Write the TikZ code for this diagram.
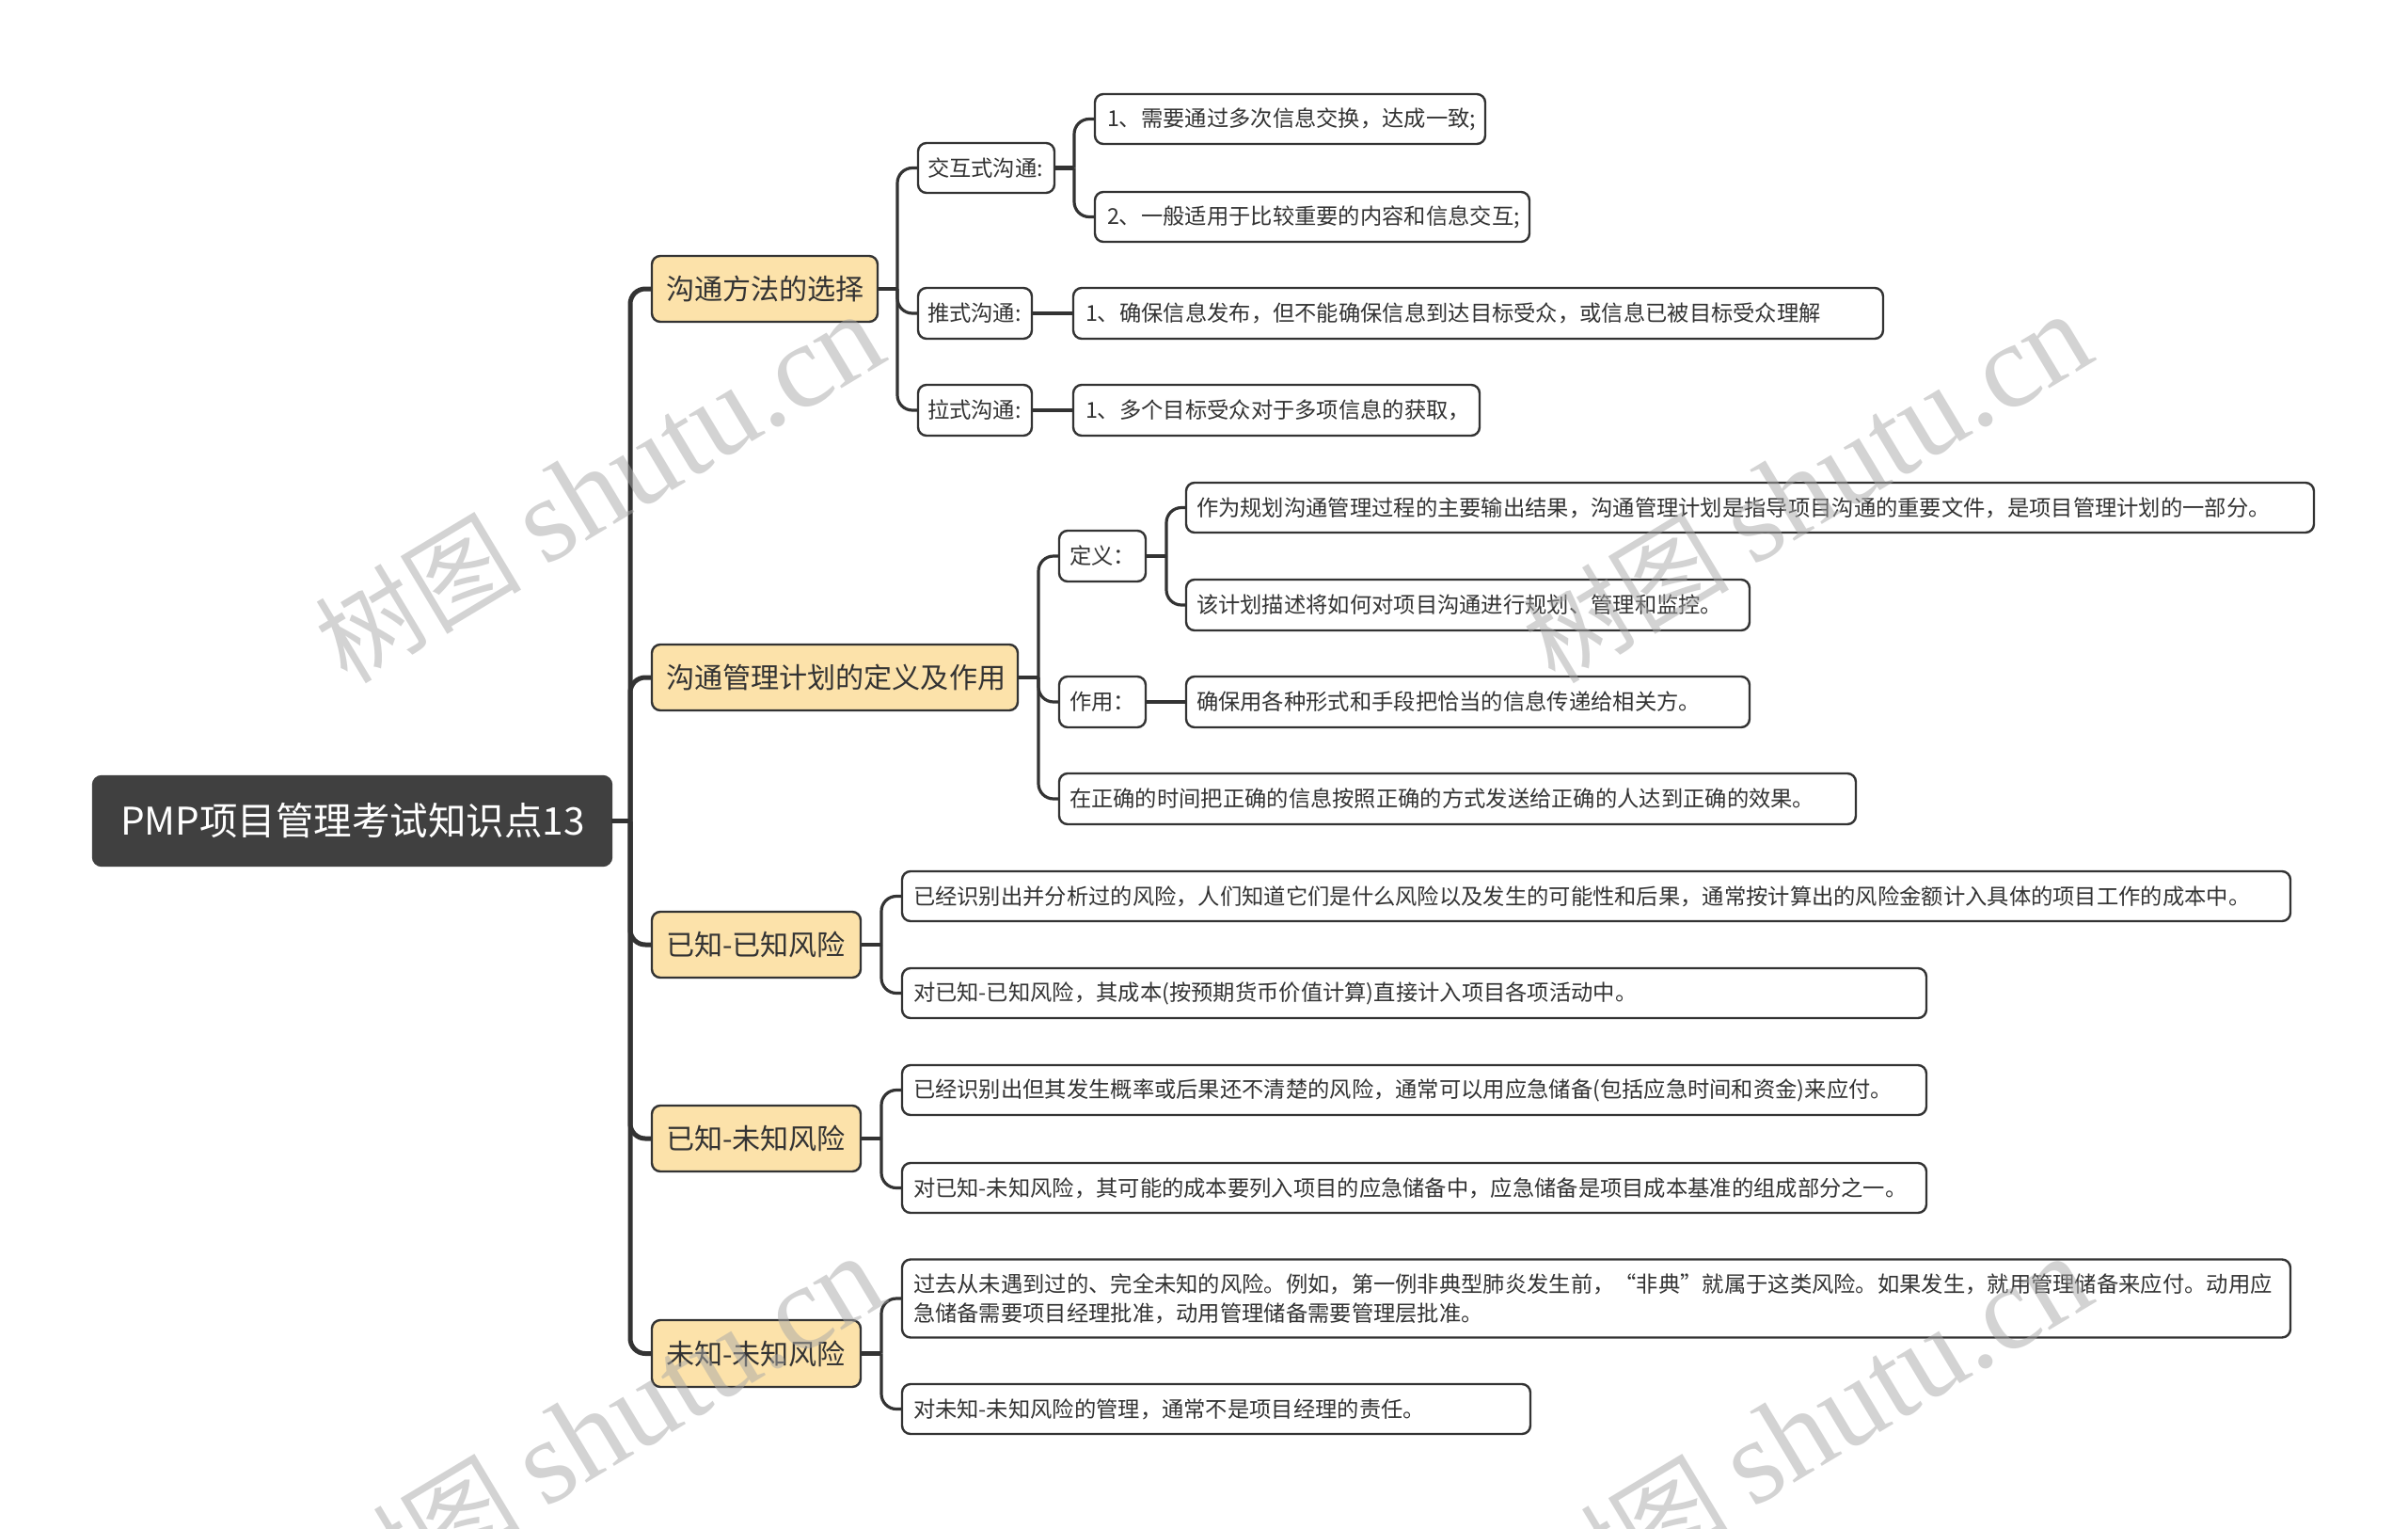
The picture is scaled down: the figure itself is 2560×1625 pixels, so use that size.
\documentclass[tikz,border=0pt]{standalone}
\usepackage{fontspec}
\setmainfont{Noto Sans CJK SC}
\newfontfamily\wmlatin{Liberation Serif}
\usetikzlibrary{calc}
\definecolor{ink}{HTML}{333333}
\definecolor{rootfill}{HTML}{404040}
\definecolor{goldfill}{HTML}{FCE2AA}
\definecolor{wmgray}{HTML}{A8A8A8}
\tikzset{
  base/.style={draw=ink,line width=2.4pt,rounded corners=9pt,inner xsep=0pt,inner ysep=0pt,outer sep=0pt,anchor=west,align=left,text=ink},
  rootbox/.style={base,fill=rootfill,draw=rootfill,text=white,font=\fontsize{40.5}{48}\selectfont},
  goldbox/.style={base,fill=goldfill,font=\fontsize{30.1}{38}\selectfont},
  leafbox/.style={base,fill=white,font=\fontsize{23.3}{31}\selectfont},
  trunk/.style={draw=ink,line width=5pt,rounded corners=16pt},
  subtrunk/.style={draw=ink,line width=3.2pt,rounded corners=16pt},
  stub/.style={draw=ink,line width=4.5pt},
  wm/.style={text=wmgray,text opacity=.5,rotate=31,inner sep=0pt,font=\fontsize{110}{130}\selectfont},
}
% name, x1, y1, x2, y2, style, left pad, text
\newcommand{\mmbox}[8]{%
  \pgfmathsetmacro{\mmw}{#4-#2}%
  \pgfmathsetmacro{\mmh}{#5-#3}%
  \pgfmathsetmacro{\mmc}{(#3+#5)/2}%
  \node[#6,text width=\mmw pt,minimum height=\mmh pt] (#1) at (#2,\mmc) {\hspace*{#7pt}\mbox{#8}};%
}
% parent, child, gap from the parent's east side to the branch line, style
\newcommand{\branch}[4]{%
  \draw[#4] (#2.west) -| ($(#1.east)+(#3,0)$);%
  \draw[stub] (#1.east) -- ++(#3,0);%
}
\newcommand{\wmtext}{树图 {\wmlatin\fontsize{128}{130}\selectfont shutu.cn}}
\begin{document}
\begin{tikzpicture}[x=1pt,y=-1pt]
\useasboundingbox (0,0) rectangle (2560,1625);
\clip (0,0) rectangle (2560,1625);
\fill[white] (0,0) rectangle (2560,1625);

\mmbox{root}{99}{825}{650}{920}{rootbox}{29}{PMP项目管理考试知识点13}

\mmbox{a}{693}{272}{933}{342}{goldbox}{15}{沟通方法的选择}
\mmbox{b}{693}{685}{1082}{755}{goldbox}{15}{沟通管理计划的定义及作用}
\mmbox{c}{693}{969}{915}{1039}{goldbox}{15}{已知-已知风险}
\mmbox{d}{693}{1175}{915}{1245}{goldbox}{15}{已知-未知风险}
\mmbox{e}{693}{1403}{915}{1474}{goldbox}{15}{未知-未知风险}

\mmbox{a1}{976}{152}{1121}{205}{leafbox}{10}{\raisebox{-3pt}{交互式沟通:}}
\mmbox{a2}{976}{306}{1097}{360}{leafbox}{10}{\raisebox{-3pt}{推式沟通:}}
\mmbox{a3}{976}{409}{1097}{463}{leafbox}{10}{\raisebox{-3pt}{拉式沟通:}}
\mmbox{a11}{1164}{100}{1579}{153}{leafbox}{13}{\raisebox{-3pt}{1、需要通过多次信息交换，达成一致;}}
\mmbox{a12}{1164}{204}{1626}{257}{leafbox}{13}{\raisebox{-3pt}{2、一般适用于比较重要的内容和信息交互;}}
\mmbox{a21}{1141}{306}{2002}{360}{leafbox}{13}{\raisebox{-3pt}{1、确保信息发布，但不能确保信息到达目标受众，或信息已被目标受众理解}}
\mmbox{a31}{1141}{409}{1573}{463}{leafbox}{13}{\raisebox{-3pt}{1、多个目标受众对于多项信息的获取，}}

\mmbox{b1}{1126}{564}{1218}{618}{leafbox}{11}{\raisebox{-3pt}{定义：}}
\mmbox{b2}{1126}{719}{1218}{773}{leafbox}{11}{\raisebox{-3pt}{作用：}}
\mmbox{b3}{1126}{822}{1973}{876}{leafbox}{11}{\raisebox{-3pt}{在正确的时间把正确的信息按照正确的方式发送给正确的人达到正确的效果。}}
\mmbox{b11}{1261}{513}{2460}{566}{leafbox}{11}{\raisebox{-3pt}{作为规划沟通管理过程的主要输出结果，沟通管理计划是指导项目沟通的重要文件，是项目管理计划的一部分。}}
\mmbox{b12}{1261}{616}{1860}{670}{leafbox}{11}{\raisebox{-3pt}{该计划描述将如何对项目沟通进行规划、管理和监控。}}
\mmbox{b21}{1261}{719}{1860}{773}{leafbox}{11}{\raisebox{-3pt}{确保用各种形式和手段把恰当的信息传递给相关方。}}

\mmbox{c1}{959}{926}{2435}{979}{leafbox}{12}{已经识别出并分析过的风险，人们知道它们是什么风险以及发生的可能性和后果，通常按计算出的风险金额计入具体的项目工作的成本中。}
\mmbox{c2}{959}{1029}{2048}{1082}{leafbox}{12}{对已知-已知风险，其成本(按预期货币价值计算)直接计入项目各项活动中。}
\mmbox{d1}{959}{1132}{2048}{1185}{leafbox}{12}{已经识别出但其发生概率或后果还不清楚的风险，通常可以用应急储备(包括应急时间和资金)来应付。}
\mmbox{d2}{959}{1236}{2048}{1289}{leafbox}{12}{对已知-未知风险，其可能的成本要列入项目的应急储备中，应急储备是项目成本基准的组成部分之一。}
\node[leafbox,text width=1476pt,minimum height=83pt] (e1) at (959,1380)
  {\hspace*{12pt}\mbox{过去从未遇到过的、完全未知的风险。例如，第一例非典型肺炎发生前，“非典”就属于这类风险。如果发生，就用管理储备来应付。动用应}\\
   \hspace*{12pt}\mbox{急储备需要项目经理批准，动用管理储备需要管理层批准。}};
\mmbox{e2}{959}{1471}{1627}{1524}{leafbox}{12}{对未知-未知风险的管理，通常不是项目经理的责任。}

\branch{root}{a}{20}{trunk}
\branch{root}{b}{20}{trunk}
\branch{root}{c}{20}{trunk}
\branch{root}{d}{20}{trunk}
\branch{root}{e}{20}{trunk}

\branch{a}{a1}{21}{subtrunk}
\branch{a}{a2}{21}{subtrunk}
\branch{a}{a3}{21}{subtrunk}
\branch{a1}{a11}{21}{subtrunk}
\branch{a1}{a12}{21}{subtrunk}
\draw[stub] (a2.east) -- (a21.west);
\draw[stub] (a3.east) -- (a31.west);

\branch{b}{b1}{22}{subtrunk}
\branch{b}{b2}{22}{subtrunk}
\branch{b}{b3}{22}{subtrunk}
\branch{b1}{b11}{22}{subtrunk}
\branch{b1}{b12}{22}{subtrunk}
\draw[stub] (b2.east) -- (b21.west);

\branch{c}{c1}{22}{subtrunk}
\branch{c}{c2}{22}{subtrunk}
\branch{d}{d1}{22}{subtrunk}
\branch{d}{d2}{22}{subtrunk}
\branch{e}{e1}{22}{subtrunk}
\branch{e}{e2}{22}{subtrunk}

\node[wm] (w1) at (637,519) {\wmtext};
\node[wm] (w2) at (1921,519) {\wmtext};
\node[wm] (w3) at (637,1520) {\wmtext};
\node[wm] (w4) at (1921,1520) {\wmtext};
\end{tikzpicture}
\end{document}
